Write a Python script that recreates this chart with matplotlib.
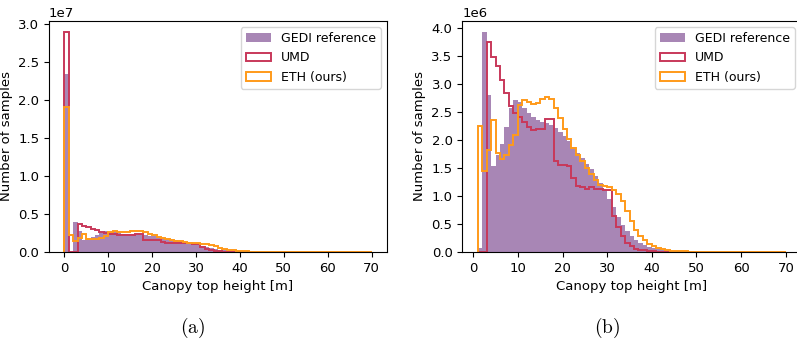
import numpy as np
import matplotlib.pyplot as plt
from matplotlib.ticker import MultipleLocator

# canopy height histograms, 1 m bins; values in millions of samples for bins 1..69
gedi = [0.07, 3.92, 2.79, 1.53, 1.72, 1.92, 2.23, 2.56, 2.70, 2.68,
        2.57, 2.47, 2.41, 2.35, 2.32, 2.29, 2.26, 2.21, 2.14, 2.07,
        1.97, 1.87, 1.76, 1.67, 1.57, 1.47, 1.35, 1.23, 1.10, 0.95,
        0.80, 0.63, 0.49, 0.37, 0.28, 0.21, 0.16, 0.12, 0.09, 0.07,
        0.05, 0.04, 0.03, 0.025, 0.02, 0.015, 0.01, 0.008, 0.006, 0.005,
        0.004, 0.003, 0.002, 0.002, 0.0015, 0.001, 0.001, 0.0008, 0.0006, 0.0005,
        0.0004, 0.0003, 0.0002, 0.0002, 0.0001, 0.0001, 0.0001, 0.0, 0.0]
umd = [0.0, 0.0, 3.74, 3.47, 3.31, 3.07, 2.84, 2.60, 2.47, 2.41,
       2.32, 2.23, 2.17, 2.20, 2.20, 2.37, 2.37, 1.62, 1.55, 1.55,
       1.53, 1.32, 1.18, 1.15, 1.13, 1.15, 1.13, 1.13, 1.11, 1.10,
       0.65, 0.45, 0.28, 0.16, 0.10, 0.06, 0.04, 0.03, 0.02, 0.012,
       0.008, 0.005, 0.003, 0.002, 0.0015, 0.001, 0.0008, 0.0005, 0.0003, 0.0002,
       0.0001, 0.0001, 0.0, 0.0, 0.0, 0.0, 0.0, 0.0, 0.0, 0.0,
       0.0, 0.0, 0.0, 0.0, 0.0, 0.0, 0.0, 0.0, 0.0]
eth = [2.25, 1.45, 1.82, 2.36, 1.76, 1.65, 1.73, 1.90, 2.08, 2.62,
       2.70, 2.67, 2.64, 2.66, 2.72, 2.76, 2.73, 2.57, 2.38, 2.20,
       2.01, 1.85, 1.73, 1.62, 1.50, 1.39, 1.29, 1.19, 1.17, 1.15,
       1.10, 1.03, 0.91, 0.73, 0.55, 0.39, 0.28, 0.21, 0.15, 0.10,
       0.07, 0.05, 0.035, 0.025, 0.02, 0.015, 0.01, 0.008, 0.006, 0.004,
       0.003, 0.002, 0.0015, 0.001, 0.001, 0.0008, 0.0006, 0.0005, 0.0004, 0.0003,
       0.0002, 0.0002, 0.0001, 0.0001, 0.0001, 0.0, 0.0, 0.0, 0.0]

# counts in the 0-1 m bin (millions), only shown in panel (a)
gedi_zero = 23.4
umd_zero = 28.9
eth_zero = 19.0

labels = ['GEDI reference', 'UMD', 'ETH (ours)']
panel_tags = [r'$(\mathrm{a})$', r'$(\mathrm{b})$']

c_gedi = '#a886b5'
c_umd = '#c8385a'
c_eth = '#ff9a1a'

plt.rcParams['font.size'] = 9.5
plt.rcParams['mathtext.fontset'] = 'cm'

fig = plt.figure(figsize=(7.97, 3.43), dpi=100)
ax_a = fig.add_axes([0.0615, 0.2653, 0.424, 0.6735])
ax_b = fig.add_axes([0.580, 0.2653, 0.4253, 0.6735])


def draw(ax, edges, g, u, e):
    centers = edges[:-1] + 0.5
    ax.hist(centers, bins=edges, weights=g, color=c_gedi, label=labels[0])
    ax.hist(centers, bins=edges, weights=u, histtype='step', color=c_umd,
            lw=1.4, label=labels[1])
    ax.hist(centers, bins=edges, weights=e, histtype='step', color=c_eth,
            lw=1.4, label=labels[2])
    ax.set_xlabel('Canopy top height [m]')
    ax.set_ylabel('Number of samples')
    ax.set_xticks(np.arange(0, 71, 10))
    ax.legend(loc='upper right', fontsize=9)


# panel (a): all bins from 0 m
edges_a = np.arange(0, 71, 1.0)
draw(ax_a, edges_a,
     np.array([gedi_zero] + gedi) * 1e6,
     np.array([umd_zero] + umd) * 1e6,
     np.array([eth_zero] + eth) * 1e6)
ax_a.yaxis.set_major_locator(MultipleLocator(5e6))

# panel (b): zero bin left out
edges_b = np.arange(1, 71, 1.0)
draw(ax_b, edges_b, np.array(gedi) * 1e6, np.array(umd) * 1e6,
     np.array(eth) * 1e6)
ax_b.yaxis.set_major_locator(MultipleLocator(5e5))

for xpos, tag in zip([0.242, 0.762], panel_tags):
    fig.text(xpos, 0.045, tag, ha='center', va='center', fontsize=14)

fig.savefig('out.png', dpi=100)
